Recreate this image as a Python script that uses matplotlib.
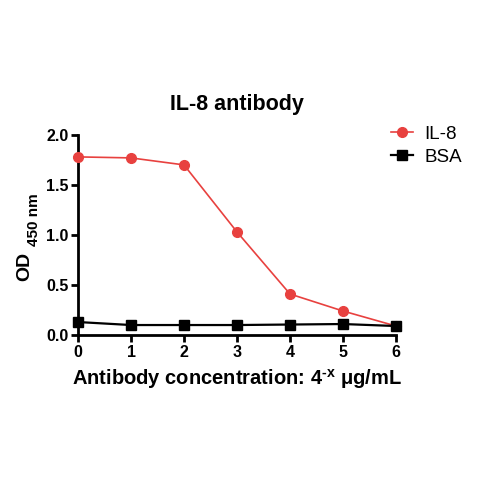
import matplotlib
matplotlib.use("Agg")
import matplotlib.pyplot as plt

plt.rcParams['font.family'] = ['Liberation Sans', 'DejaVu Sans']
plt.rcParams['mathtext.fontset'] = 'custom'
plt.rcParams['mathtext.rm'] = 'Liberation Sans:bold'
plt.rcParams['mathtext.bf'] = 'Liberation Sans:bold'
plt.rcParams['mathtext.it'] = 'Liberation Sans:bold'

x_vals = [0, 1, 2, 3, 4, 5, 6]
il8 = [1.78, 1.77, 1.70, 1.03, 0.41, 0.24, 0.09]
bsa = [0.13, 0.10, 0.10, 0.10, 0.105, 0.11, 0.09]
x_ticks = [0, 1, 2, 3, 4, 5, 6]
y_ticks = [0.0, 0.5, 1.0, 1.5, 2.0]
y_tick_labels = ['0.0', '0.5', '1.0', '1.5', '2.0']

fig = plt.figure(figsize=(4.8, 4.8), dpi=100)
ax = fig.add_axes([0.1625, 0.302, 0.6625, 0.417])

ax.plot(x_vals, il8, color='#E8413F', lw=1.2, marker='o', ms=7, label='IL-8', clip_on=False, zorder=3)
ax.plot(x_vals, bsa, color='black', lw=1.6, marker='s', ms=7, label='BSA', clip_on=False, zorder=4)

ax.set_xlim(0, 6)
ax.set_ylim(0, 2.0)
ax.set_xticks(x_ticks)
ax.set_yticks(y_ticks)
ax.set_yticklabels(y_tick_labels)
for s in ['top', 'right']:
    ax.spines[s].set_visible(False)
for s in ['left', 'bottom']:
    ax.spines[s].set_linewidth(2)
ax.tick_params(width=2, length=5, labelsize=11.5, pad=2)
for lab in ax.get_xticklabels() + ax.get_yticklabels():
    lab.set_fontweight('bold')

ax.set_title('IL-8 antibody', fontsize=15.5, fontweight='bold', pad=18)
ax.set_xlabel(r'Antibody concentration: 4$^{\text{-x}}$ $\mu$g/mL', fontsize=14.5,
              fontweight='bold', labelpad=5)

fig.text(25/480, 1 - 266/480, 'OD', rotation=90, fontsize=14, fontweight='bold', ha='center', va='center')
fig.text(34/480, 1 - 220/480, '450 nm', rotation=90, fontsize=11, fontweight='bold', ha='center', va='center')

leg = ax.legend(loc='upper left', bbox_to_anchor=(0.93, 1.13), frameon=False, fontsize=13.5,
                handlelength=1.2, handletextpad=0.6, labelspacing=0.3)

fig.savefig('out.png', dpi=100)
